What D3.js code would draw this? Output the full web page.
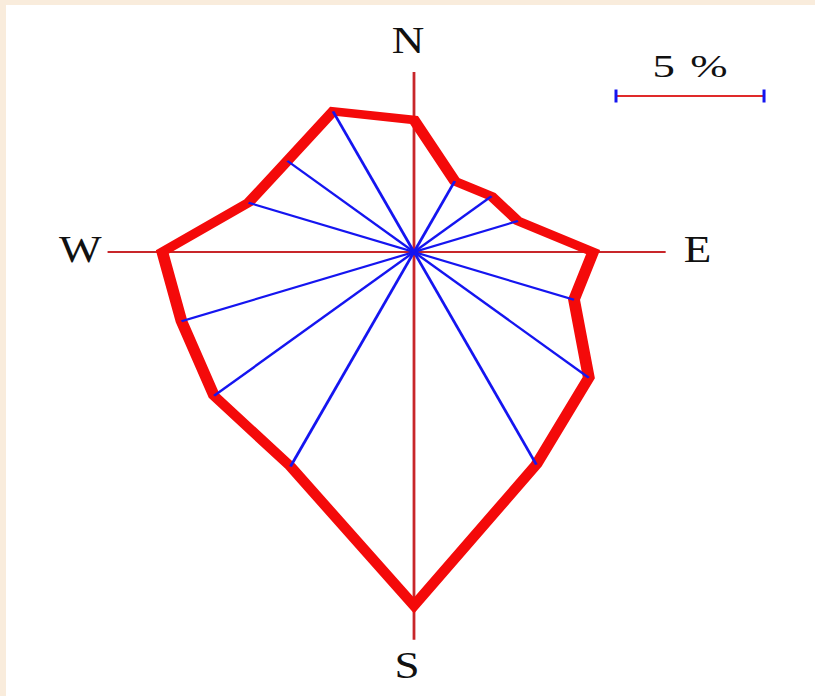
<!DOCTYPE html>
<html>
<head>
<meta charset="utf-8">
<script src="https://cdn.jsdelivr.net/npm/d3@7"></script>
<style>
  html, body { margin: 0; padding: 0; background: #ffffff; }
  #chart { width: 815px; height: 696px; }
  text { font-family: "Liberation Serif", "Times New Roman", serif; fill: #111; }
</style>
</head>
<body>
<div id="chart"></div>
<script>
// wind rose - 16 directions, frequency in %

const directions = ["N", "NNE", "NE", "ENE", "E", "ESE", "SE", "SSE",
                    "S", "SSW", "SW", "WSW", "W", "WNW", "NW", "NNW"];
const frequencies = [6.2, 3.6, 3.7, 3.8, 6.05, 5.85, 8.35, 10.8,
                     16.6, 10.9, 9.55, 8.5, 8.5, 6.05, 6.05, 7.15];
const cardinals = ["N", "E", "S", "W"];
const scaleBarValue = 5;
const scaleBarLabel = "5 %";

let w = 815, h = 696;
let cx = 414, cy = 252;
let stretch = 1.39;   // the picture is wider than tall

let svg = d3.select("#chart").append("svg")
    .attr("width", w)
    .attr("height", h);

// beige frame on top and left
svg.append("rect").attr("x", 0).attr("y", 0).attr("width", w).attr("height", h).attr("fill", "#f9ecdc");
svg.append("rect").attr("x", 6).attr("y", 5).attr("width", w - 6).attr("height", h - 5).attr("fill", "#ffffff");

let rScale = d3.scaleLinear().domain([0, 1]).range([0, 21.3]);
let angle = d3.scaleLinear().domain([0, directions.length]).range([0, 2 * Math.PI]);

let g = svg.append("g")
    .attr("transform", "translate(" + cx + "," + cy + ") scale(" + stretch + ",1)");

// length of axis arms (in %) beyond center
let arms = {N: 8.45, E: 8.5, S: 18.2, W: 10.35};

g.append("line")
    .attr("x1", 0).attr("y1", -rScale(arms.N))
    .attr("x2", 0).attr("y2", rScale(arms.S))
    .attr("stroke", "#c8262a").attr("stroke-width", 2);
g.append("line")
    .attr("x1", -rScale(arms.W)).attr("y1", 0)
    .attr("x2", rScale(arms.E)).attr("y2", 0)
    .attr("stroke", "#c8262a").attr("stroke-width", 2);

// the rose outline
let line = d3.lineRadial()
    .angle(function(d, i) { return angle(i); })
    .radius(function(d) { return rScale(d); })
    .curve(d3.curveLinearClosed);

g.append("path")
    .datum(frequencies)
    .attr("d", line)
    .attr("fill", "none")
    .attr("stroke", "#f40a0a")
    .attr("stroke-width", 8.5)
    .attr("stroke-linejoin", "miter");

// spokes (cardinal ones are covered by the red axes)
let spokes = frequencies
    .map(function(v, i) { return {v: v, i: i}; })
    .filter(function(d) { return d.i % 4 !== 0; });

g.selectAll(".spoke")
    .data(spokes)
    .enter().append("line")
    .attr("class", "spoke")
    .attr("x1", 0).attr("y1", 0)
    .attr("x2", function(d) { return rScale(d.v) * Math.sin(angle(d.i)); })
    .attr("y2", function(d) { return -rScale(d.v) * Math.cos(angle(d.i)); })
    .attr("stroke", "#1515f0")
    .attr("stroke-width", 2.1);

// N E S W labels
let labelPos = {
    N: [cx - 6, cy - rScale(arms.N) - 19, "middle"],
    S: [cx - 7, cy + rScale(arms.S) + 38, "middle"],
    E: [cx + rScale(arms.E) * stretch + 18, cy + 10, "start"],
    W: [cx - rScale(arms.W) * stretch - 6, cy + 10, "end"]
};
cardinals.forEach(function(c) {
    let p = labelPos[c];
    svg.append("text")
        .attr("transform", "translate(" + p[0] + "," + p[1] + ") scale(1.22,1)")
        .attr("text-anchor", p[2])
        .style("font-size", "37px")
        .text(c);
});

// 5 % scale bar
let barLen = rScale(scaleBarValue) * stretch;
let bx = 616, by = 96;
svg.append("line")
    .attr("x1", bx).attr("y1", by).attr("x2", bx + barLen).attr("y2", by)
    .attr("stroke", "#e02a2a").attr("stroke-width", 2);
[bx, bx + barLen].forEach(function(x) {
    svg.append("line")
        .attr("x1", x).attr("y1", by - 6.5).attr("x2", x).attr("y2", by + 6.5)
        .attr("stroke", "#1515f0").attr("stroke-width", 3);
});
svg.append("text")
    .attr("transform", "translate(" + (bx + barLen / 2) + ",77) scale(1.4,1)")
    .attr("text-anchor", "middle")
    .style("font-size", "32px")
    .style("word-spacing", "3px")
    .text(scaleBarLabel);
</script>
</body>
</html>
